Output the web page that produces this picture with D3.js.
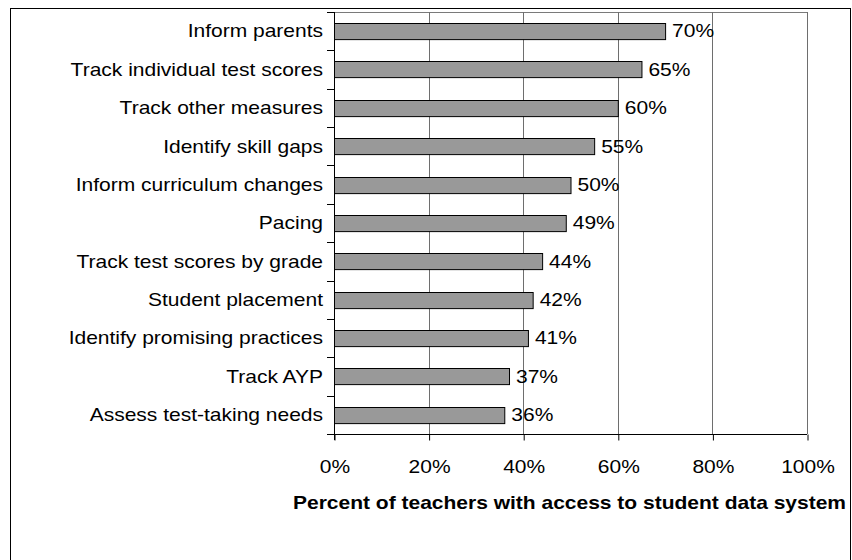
<!DOCTYPE html>
<html>
<head>
<meta charset="utf-8">
<script src="https://cdn.jsdelivr.net/npm/d3@7"></script>
<style>
  html, body { margin: 0; padding: 0; background: #fff; }
  svg { display: block; }
  text { font-family: "Liberation Sans", Arial, sans-serif; fill: #000; }
</style>
</head>
<body>
<script>
const categories = [
  "Inform parents",
  "Track individual test scores",
  "Track other measures",
  "Identify skill gaps",
  "Inform curriculum changes",
  "Pacing",
  "Track test scores by grade",
  "Student placement",
  "Identify promising practices",
  "Track AYP",
  "Assess test-taking needs"
];
const values = [70, 65, 60, 55, 50, 49, 44, 42, 41, 37, 36];
const xTicks = [0, 20, 40, 60, 80, 100];
const xTitle = "Percent of teachers with access to student data system";

const W = 852, H = 560;
const pLeft = 334, pRight = 807, pTop = 12, pBottom = 434;
const sx = 1.167; // horizontal text stretch of the original
const fs = 18;

const svg = d3.select("body").append("svg").attr("width", W).attr("height", H);
svg.append("rect").attr("width", W).attr("height", H).attr("fill", "#fff");

// outer frame
svg.append("rect")
  .attr("x", 10.5).attr("y", 8.5).attr("width", 840).attr("height", 620)
  .attr("fill", "none").attr("stroke", "#000").attr("stroke-width", 1);

const x = d3.scaleLinear().domain([0, 100]).range([pLeft, pRight]);
const y = d3.scaleBand().domain(categories).range([pTop, pBottom]).paddingInner(0.58).paddingOuter(0.29);

// plot area top border
svg.append("line")
  .attr("x1", pLeft).attr("x2", pRight).attr("y1", pTop + 0.5).attr("y2", pTop + 0.5)
  .attr("stroke", "#7a7a7a").attr("stroke-width", 1);

// gridlines
svg.selectAll("line.grid").data(xTicks.filter(d => d > 0)).enter().append("line")
  .attr("class", "grid")
  .attr("x1", d => Math.round(x(d)) + 0.5).attr("x2", d => Math.round(x(d)) + 0.5)
  .attr("y1", pTop).attr("y2", pBottom)
  .attr("stroke", "#6e6e6e").attr("stroke-width", 1);

// bars
svg.selectAll("rect.bar").data(values).enter().append("rect")
  .attr("class", "bar")
  .attr("x", pLeft + 0.5)
  .attr("y", (d, i) => Math.round(y(categories[i])) + 0.5)
  .attr("width", d => x(d) - pLeft)
  .attr("height", y.bandwidth())
  .attr("fill", "#999999").attr("stroke", "#000").attr("stroke-width", 1);

// value labels
svg.selectAll("text.val").data(values).enter().append("text")
  .attr("class", "val")
  .attr("transform", (d, i) => `translate(${x(d) + 7},${y(categories[i]) + y.bandwidth() / 2 + fs * 0.35}) scale(${sx},1)`)
  .attr("font-size", fs)
  .text(d => d + "%");

// left axis
const yAxisG = svg.append("g");
yAxisG.append("line")
  .attr("x1", pLeft + 0.5).attr("x2", pLeft + 0.5).attr("y1", pTop).attr("y2", pBottom + 6)
  .attr("stroke", "#000");
const bounds = d3.range(categories.length + 1).map(i => pTop + i * (pBottom - pTop) / categories.length);
yAxisG.selectAll("line.yt").data(bounds).enter().append("line")
  .attr("x1", pLeft - 7).attr("x2", pLeft)
  .attr("y1", d => Math.round(d) + 0.5).attr("y2", d => Math.round(d) + 0.5)
  .attr("stroke", "#000");

// category labels
svg.selectAll("text.cat").data(categories).enter().append("text")
  .attr("class", "cat")
  .attr("text-anchor", "end")
  .attr("transform", d => `translate(${pLeft - 11},${y(d) + y.bandwidth() / 2 + fs * 0.35}) scale(${sx},1)`)
  .attr("font-size", fs)
  .text(d => d);

// bottom axis
const xAxis = d3.axisBottom(x).tickValues(xTicks).tickSize(6).tickFormat(d => d + "%");
const xg = svg.append("g").attr("transform", `translate(0.5,${pBottom + 0.5})`).call(xAxis);
xg.select(".domain").attr("d", `M${pLeft},0H${pRight - 0.5}`).attr("stroke", "#000");
xg.selectAll(".tick line").attr("stroke", "#000");
xg.selectAll(".tick text")
  .attr("font-family", "Liberation Sans, Arial, sans-serif")
  .attr("font-size", fs)
  .attr("fill", "#000")
  .attr("y", 0).attr("dy", 0)
  .attr("transform", `translate(0,38) scale(${sx},1)`);

// axis title
svg.append("text")
  .attr("text-anchor", "middle")
  .attr("font-weight", "bold")
  .attr("font-size", fs)
  .attr("transform", `translate(${(pLeft + pRight) / 2 - 1},${509}) scale(${sx},1)`)
  .text(xTitle);
</script>
</body>
</html>
